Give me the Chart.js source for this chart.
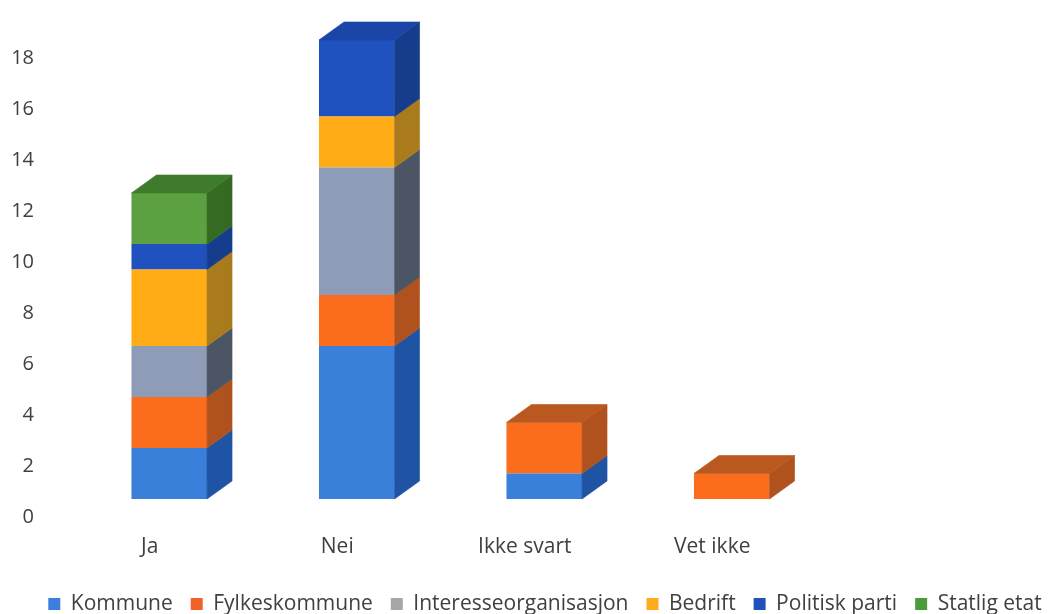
<!DOCTYPE html>
<html>
<head>
<meta charset="utf-8">
<script src="https://cdn.jsdelivr.net/npm/chart.js@4/dist/chart.umd.min.js"></script>
<style>
  html, body { margin: 0; padding: 0; background: #ffffff; }
  #wrap { width: 1050px; height: 614px; overflow: hidden; }
</style>
</head>
<body>
<div id="wrap"><canvas id="c" width="1050" height="614"></canvas></div>
<script>
// Answer categories and counts per type of actor
const categories = ['Ja', 'Nei', 'Ikke svart', 'Vet ikke'];
const seriesNames = ['Kommune', 'Fylkeskommune', 'Interesseorganisasjon', 'Bedrift', 'Politisk parti', 'Statlig etat'];
const kommune = [2, 6, 1, 0];
const fylkeskommune = [2, 2, 2, 1];
const interesseorganisasjon = [2, 5, 0, 0];
const bedrift = [3, 2, 0, 0];
const politiskParti = [1, 3, 0, 0];
const statligEtat = [2, 0, 0, 0];
const yTickValues = [0, 2, 4, 6, 8, 10, 12, 14, 16, 18];

const seriesValues = [kommune, fylkeskommune, interesseorganisasjon, bedrift, politiskParti, statligEtat];

// Face colours for the pseudo-3D columns
const frontColors  = ['#3a7fd9', '#fc6c1d', '#8e9cb8', '#ffac17', '#2052bf', '#5ba141'];
const sideColors   = ['#1e54a3', '#b0521d', '#4b5563', '#a97b1c', '#163c8c', '#356a22'];
const topColors    = ['#2a63b8', '#b9581f', '#5f6a7c', '#b98a20', '#1b45a6', '#3f7b2c'];
const legendColors = ['#3d7ddb', '#f0622a', '#a6a6a6', '#ffab1f', '#2152b9', '#4b9b3c'];

const DEPTH_X = 25, DEPTH_Y = -18;   // depth of the column boxes
const SHIFT_X = 19.5, SHIFT_Y = -18; // front faces sit in front of the axis plane
const LEGEND_SHIFT_X = 20;

function quad(ctx, pts, color) {
  ctx.fillStyle = color;
  ctx.strokeStyle = color;
  ctx.lineWidth = 0.6;
  ctx.beginPath();
  ctx.moveTo(pts[0][0], pts[0][1]);
  for (let k = 1; k < pts.length; k++) ctx.lineTo(pts[k][0], pts[k][1]);
  ctx.closePath();
  ctx.fill();
  ctx.stroke();
}

const columns3d = {
  id: 'columns3d',
  afterLayout(chart) {
    if (chart.legend) {
      chart.legend.left += LEGEND_SHIFT_X;
      chart.legend.right += LEGEND_SHIFT_X;
    }
  },
  beforeDatasetsDraw(chart) {
    chart.ctx.save();
    chart.ctx.translate(SHIFT_X, SHIFT_Y);
  },
  afterDatasetsDraw(chart) {
    const ctx = chart.ctx;
    const tops = [];
    chart.data.datasets.forEach((ds, di) => {
      const meta = chart.getDatasetMeta(di);
      meta.data.forEach((el, i) => {
        if (!ds.data[i]) return;
        const p = el.getProps(['x', 'y', 'base', 'width'], true);
        const left = p.x - p.width / 2, right = p.x + p.width / 2;
        const top = Math.min(p.y, p.base), bot = Math.max(p.y, p.base);
        quad(ctx, [[right, top], [right + DEPTH_X, top + DEPTH_Y], [right + DEPTH_X, bot + DEPTH_Y], [right, bot]], sideColors[di]);
        tops[i] = { left, right, top, di };
      });
    });
    tops.forEach(t => {
      if (!t) return;
      quad(ctx, [[t.left, t.top], [t.left + DEPTH_X, t.top + DEPTH_Y], [t.right + DEPTH_X, t.top + DEPTH_Y], [t.right, t.top]], topColors[t.di]);
    });
    ctx.restore();
  }
};

const textColor = '#404040';
const fontFamily = '"Open Sans", "Noto Sans", sans-serif';

new Chart(document.getElementById('c'), {
  type: 'bar',
  data: {
    labels: categories,
    datasets: seriesNames.map((name, i) => ({
      label: name,
      data: seriesValues[i],
      backgroundColor: frontColors[i],
      borderWidth: 0,
      barPercentage: 0.403,
      categoryPercentage: 1,
      clip: false
    }))
  },
  options: {
    responsive: false,
    animation: false,
    layout: { padding: { top: 58, left: 0, right: 0, bottom: -10.5 } },
    scales: {
      x: {
        stacked: true,
        grid: { display: false, drawTicks: false },
        border: { display: false },
        ticks: { color: textColor, font: { family: fontFamily, size: 21 }, padding: 17 },
        afterFit(s) { s.height = 58.5; }
      },
      y: {
        stacked: true,
        min: 0,
        max: 18,
        afterBuildTicks(s) { s.ticks = yTickValues.map(v => ({ value: v })); },
        grid: { display: false, drawTicks: false },
        border: { display: false },
        ticks: { color: textColor, font: { family: fontFamily, size: 20 }, padding: 22 },
        afterFit(s) { s.width = 56; }
      },
      spacer: {
        type: 'linear',
        position: 'right',
        display: true,
        grid: { display: false, drawTicks: false },
        border: { display: false },
        ticks: { display: false },
        afterFit(s) { s.width = 244; }
      }
    },
    plugins: {
      tooltip: { enabled: false },
      legend: {
        position: 'bottom',
        labels: {
          boxWidth: 12,
          boxHeight: 12,
          padding: 18,
          color: textColor,
          font: { family: fontFamily, size: 21 },
          generateLabels(chart) {
            return chart.data.datasets.map((ds, i) => ({
              text: ds.label,
              fillStyle: legendColors[i],
              strokeStyle: legendColors[i],
              lineWidth: 0,
              hidden: false,
              datasetIndex: i,
              fontColor: textColor
            }));
          }
        }
      }
    }
  },
  plugins: [columns3d]
});
</script>
</body>
</html>
